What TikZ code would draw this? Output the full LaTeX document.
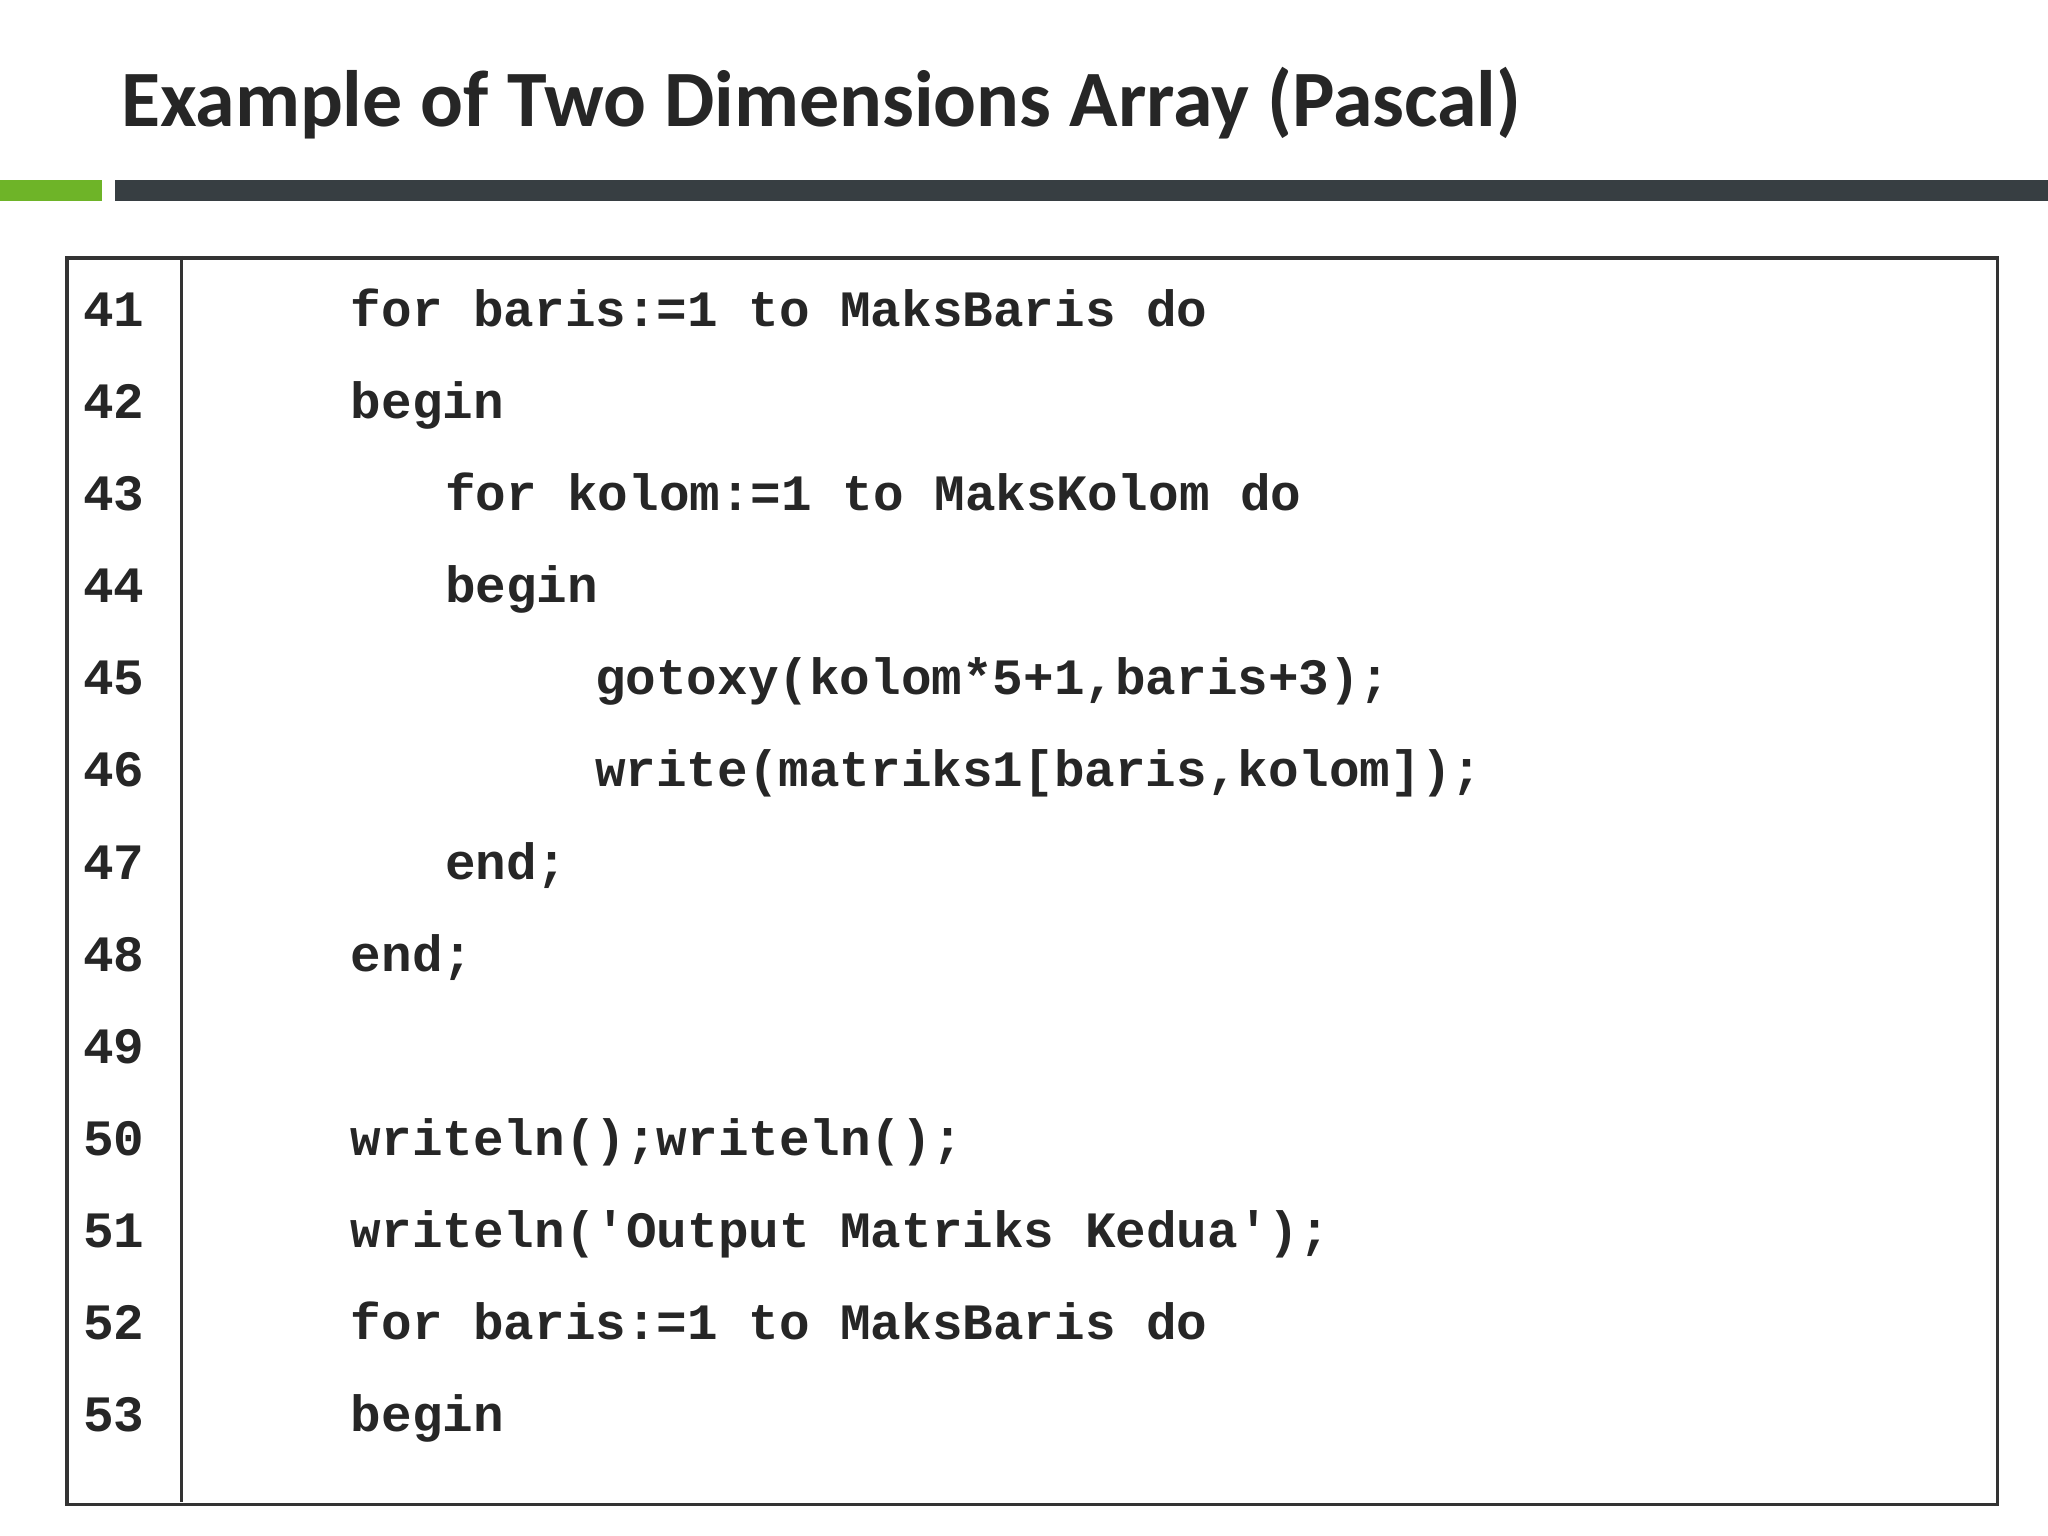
\documentclass[tikz,border=0pt]{standalone}
\usepackage{fontspec}
\setmainfont{Carlito}
\setmonofont{Liberation Mono}
\usetikzlibrary{positioning}
\definecolor{barGreen}{RGB}{110,180,40}
\definecolor{barDark}{RGB}{55,62,66}
\definecolor{textDark}{RGB}{38,38,38}
\tikzset{
  code/.style={anchor=base west, inner sep=0pt, text=textDark,
    font=\fontsize{11.1}{13}\selectfont\ttfamily\bfseries},
  lineno/.style={code}
}
\begin{document}
\begin{tikzpicture}[x=0.01cm,y=-0.01cm]
  \useasboundingbox (0,0) rectangle (1568,1176);
  \node (title) [anchor=base west, inner sep=0pt, text=textDark,
    font=\fontsize{17.4}{21}\selectfont\bfseries] at (92,97)
    {Example of Two Dimensions Array (Pascal)};
  \fill[barGreen] (0,138) rectangle (78,154);
  \fill[barDark] (88,138) rectangle (1568,154);
  \node (box) [draw=black!80, line width=0.8pt, minimum width=14.77cm,
    minimum height=9.54cm, anchor=north west, inner sep=0pt] at (50,196) {};
  \draw[black!80, line width=0.8pt] (139,196) -- (139,1150);
  % line numbers
  \foreach \n [count=\i from 0] in {41,...,53}
    \node (no\n) [lineno] at (63,250+70.5*\i) {\n};
  % code
  \node (c41) [code] at (268,250) {for baris:=1 to MaksBaris do};
  \node (c42) [code] at (268,320.5) {begin};
  \node (c43) [code] at (340,391) {for kolom:=1 to MaksKolom do};
  \node (c44) [code] at (340,461.5) {begin};
  \node (c45) [code] at (455,532) {gotoxy(kolom*5+1,baris+3);};
  \node (c46) [code] at (455,602.5) {write(matriks1[baris,kolom]);};
  \node (c47) [code] at (340,673) {end;};
  \node (c48) [code] at (268,743.5) {end;};
  \node (c50) [code] at (268,884.5) {writeln();writeln();};
  \node (c51) [code] at (268,955) {writeln('Output Matriks Kedua');};
  \node (c52) [code] at (268,1025.5) {for baris:=1 to MaksBaris do};
  \node (c53) [code] at (268,1096) {begin};
\end{tikzpicture}
\end{document}
